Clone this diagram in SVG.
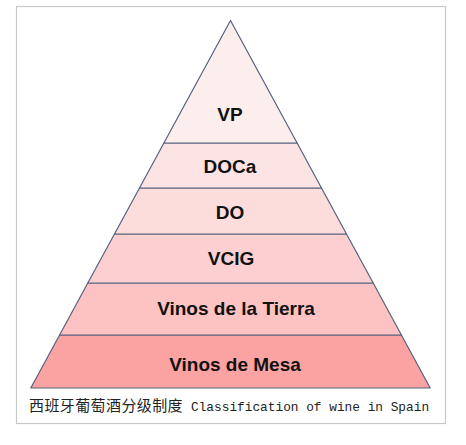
<svg xmlns="http://www.w3.org/2000/svg" width="466" height="445" viewBox="0 0 466 445">
<style>
.lvl{stroke:#56627f;stroke-width:1.2;stroke-linejoin:round}
.lbl{font-family:"Liberation Sans",Arial,sans-serif;font-weight:bold;font-size:19px;fill:#111;text-anchor:middle}
.cjk{font-family:"Noto Sans CJK SC",sans-serif;font-size:15px;fill:#222;letter-spacing:0.4px}
.lat{font-family:"Liberation Mono","Courier New",monospace;font-size:12.8px;fill:#222}
</style>
<rect x="0" y="0" width="466" height="445" fill="#fff"/>
<rect x="16.5" y="6.5" width="429" height="417" fill="#fff" stroke="#c8c8c8" stroke-width="1.2"/>
<g id="vinos-de-mesa">
<polygon class="lvl" points="59.6,335 401.4,335 430.2,388 30.8,388" fill="#fba3a3"/>
<text class="lbl" x="235" y="370.5">Vinos de Mesa</text>
</g>
<g id="vinos-de-la-tierra">
<polygon class="lvl" points="87.8,283 373.2,283 401.4,335 59.6,335" fill="#fdc2c2"/>
<text class="lbl" x="236" y="315">Vinos de la Tierra</text>
</g>
<g id="vcig">
<polygon class="lvl" points="114.5,234 346.5,234 373.2,283 87.8,283" fill="#fcd0d0"/>
<text class="lbl" x="231" y="265">VCIG</text>
</g>
<g id="do">
<polygon class="lvl" points="139.5,188 321.5,188 346.5,234 114.5,234" fill="#fddcdc"/>
<text class="lbl" x="230" y="219">DO</text>
</g>
<g id="doca">
<polygon class="lvl" points="163.9,143 297.1,143 321.5,188 139.5,188" fill="#fde4e4"/>
<text class="lbl" x="230" y="173">DOCa</text>
</g>
<g id="vp">
<polygon class="lvl" points="230.5,20.5 297.1,143 163.9,143" fill="#fdeeee"/>
<text class="lbl" x="230" y="120.5">VP</text>
</g>
<g id="caption">
<text class="cjk" x="29" y="410.5">西班牙葡萄酒分级制度</text>
<text class="lat" x="191" y="410.5">Classification of wine in Spain</text>
</g>
</svg>
